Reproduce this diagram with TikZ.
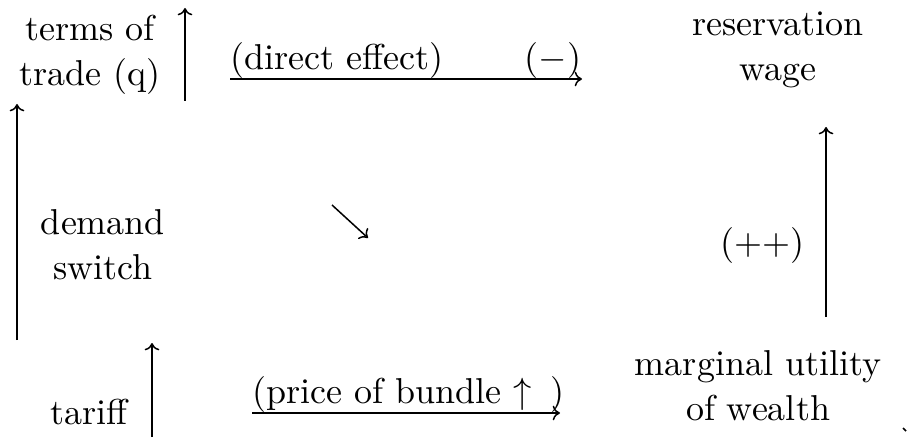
\documentclass[tikz,border=0pt]{standalone}
\usetikzlibrary{arrows.meta}

\begin{document}
\begin{tikzpicture}[x=0.3pt, y=-0.3pt,
		every node/.style={font=\fontsize{10.8}{13.6}\selectfont, inner sep=0pt},
		lbl/.style={align=center},
		eff/.style={-{To[length=2.2pt,width=4.4pt]}, line width=0.45pt}]
	\useasboundingbox (0,0) rectangle (909,437);
	% boxes of text
	\node[lbl] (tot) at (90,55) {terms of\\trade (q)};
	\node[lbl] (rw) at (778,50) {reservation\\wage};
	\node[lbl] (ds) at (103,245) {demand\\switch};
	\node[lbl] (pp) at (762,245) {(++)};
	\node[lbl] (tf) at (89,412) {tariff};
	\node[lbl] (mu) at (758,386) {marginal utility\\of wealth};
	% ends of the arrows
	\coordinate (l0) at (17,340);   \coordinate (l1) at (17,104);
	\coordinate (q0) at (185,101);  \coordinate (q1) at (185,8);
	\coordinate (h0) at (230,79);   \coordinate (h1) at (582,79);
	\coordinate (d0) at (332,205);  \coordinate (d1) at (368,238);
	\coordinate (r0) at (826,317);  \coordinate (r1) at (826,127);
	\coordinate (t0) at (152,437);  \coordinate (t1) at (152,343);
	\coordinate (b0) at (252,413);  \coordinate (b1) at (560,413);
	\coordinate (k0) at (903,428);  \coordinate (k1) at (906,431);
	\draw[eff] (l0) -- (l1);
	\draw[eff] (q0) -- (q1);
	\draw[eff] (h0) -- (h1);
	\node[anchor=base west] (de) at (230,70) {(direct effect)};
	\node[anchor=base east] (mi) at (582,70) {(\(-\))};
	\draw[eff] (d0) -- (d1);
	\draw[eff] (r0) -- (r1);
	\draw[eff] (t0) -- (t1);
	\draw[eff] (b0) -- (b1);
	\node[anchor=base west] (pb) at (252,403) {(price of bundle \(\uparrow\) \,)};
	\draw[line width=0.45pt] (k0) -- (k1);
\end{tikzpicture}
\end{document}
